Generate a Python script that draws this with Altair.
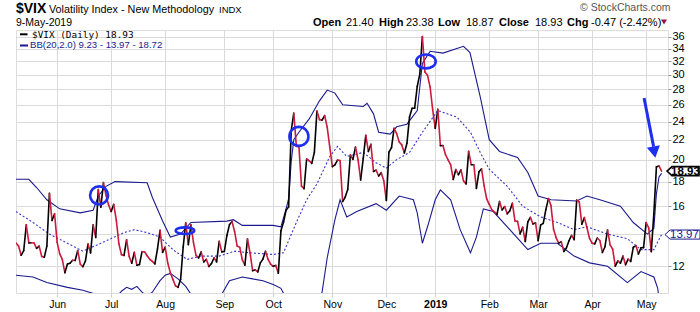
import json
import altair as alt
import pandas as pd

# ---------------- data ----------------
# $VIX daily closes, 9-May-2018 .. 9-May-2019 (trading-day index 0..251)
vix_close = [
    # May 2018
    13.42, 13.23, 12.65, 12.93, 14.63, 13.42, 13.43, 13.42, 13.08, 13.22, 12.58, 12.53, 13.22, 17.02, 14.94, 15.43,
    # Jun
    13.46, 12.74, 12.40, 11.64, 12.13, 12.18, 12.35, 12.34, 12.94, 12.12, 11.98, 12.31, 13.35, 12.79, 14.64, 13.77,
    17.33, 15.92, 17.91, 16.85, 16.09,
    # Jul
    15.60, 16.14, 14.97, 13.37, 12.69, 12.64, 13.63, 12.58, 12.18, 12.83, 12.06, 12.10, 12.87, 12.86, 12.62, 12.41,
    12.29, 12.14, 13.03, 14.26, 12.83,
    # Aug
    13.15, 12.19, 11.64, 11.27, 10.93, 10.85, 11.27, 13.16, 14.78, 13.31, 14.64, 13.45, 12.64, 12.49, 12.86, 12.25,
    12.41, 11.99, 12.16, 12.50, 12.25, 13.53, 12.86,
    # Sep
    12.88, 13.91, 14.65, 14.88, 14.16, 13.22, 13.14, 12.37, 12.07, 13.68, 12.79, 11.75, 11.80, 11.68, 12.20, 12.42,
    12.89, 12.41, 12.12,
    # Oct
    12.00, 12.05, 11.61, 14.22, 14.82, 15.69, 15.95, 22.96, 24.98, 21.31, 21.30, 17.62, 17.40, 20.06, 19.89, 19.64,
    20.71, 25.23, 24.22, 24.16, 24.70, 23.35, 21.23,
    # Nov
    19.34, 19.51, 19.96, 19.91, 16.36, 16.72, 17.36, 20.45, 20.02, 21.25, 19.98, 18.14, 20.10, 22.48, 20.80, 21.52,
    18.90, 19.02, 18.49, 18.79, 18.07,
    # Dec
    16.44, 20.74, 21.19, 23.23, 22.64, 21.76, 21.46, 20.65, 21.63, 24.52, 25.58, 25.58, 28.38, 30.11, 36.07, 30.41,
    29.96, 28.34, 25.42,
    # Jan 2019
    23.22, 25.45, 21.38, 21.40, 20.47, 19.98, 19.50, 18.19, 19.07, 18.60, 19.04, 18.06, 17.80, 20.80, 19.52, 19.52,
    17.42, 18.87, 19.13, 17.66, 16.57,
    # Feb
    16.14, 15.73, 15.57, 15.38, 16.37, 15.72, 15.97, 15.43, 15.65, 16.22, 14.91, 14.88, 14.02, 14.46, 13.51, 14.85,
    15.17, 14.70, 14.78,
    # Mar
    13.57, 14.63, 14.74, 15.74, 16.59, 16.05, 14.33, 13.77, 13.41, 13.50, 12.88, 13.10, 13.56, 13.91, 13.63, 16.48,
    16.33, 14.68, 15.15, 14.43, 13.71,
    # Apr
    13.40, 13.36, 13.74, 13.58, 12.82, 13.18, 14.28, 13.30, 13.02, 12.01, 12.32, 12.18, 12.60, 12.09, 12.42, 12.28,
    13.14, 13.25, 12.73, 13.11, 13.12,
    # May 2019
    14.80, 14.42, 12.87, 15.44, 19.32, 19.40, 18.93,
]

month_start_idx = [16, 37, 58, 81, 100, 123, 144, 163, 184, 203, 224, 245]
month_labels = ["Jun", "Jul", "Aug", "Sep", "Oct", "Nov", "Dec", "2019", "Feb", "Mar", "Apr", "May"]
y_tick_values = [12, 14, 16, 18, 20, 22, 24, 26, 28, 30, 32, 34, 36]

# Bollinger band (20, 2.0)
upper_idx = [0, 5, 8, 12, 17, 25, 30, 32, 35, 38.5, 51, 53, 57, 60, 64, 68, 82, 84.5, 88, 100, 103, 105, 106, 107,
             108, 110, 114, 118, 121, 124, 127, 135, 136.5, 139, 141, 145.5, 148, 152, 156, 158, 161, 166, 174,
             176.5, 180.5, 184, 188, 195, 199, 203, 208, 218, 222, 227, 235, 240, 245.5, 248, 249, 250, 251]
upper_val = [18.2, 18.2, 17.5, 16.5, 15.8, 15.5, 15.7, 16.8, 17.6, 18.0, 17.9, 16.7, 14.9, 13.8, 14.0, 14.8, 14.9,
             15.0, 14.6, 14.6, 14.5, 15.8, 16.6, 19.8, 22.0, 22.8, 24.3, 26.5, 27.9, 27.5, 26.0, 25.8, 26.2, 24.9,
             22.8, 22.6, 23.4, 23.7, 25.3, 31.7, 33.6, 33.3, 34.4, 33.4, 27.0, 22.0, 20.8, 20.2, 18.8, 16.8, 16.5,
             16.4, 16.8, 16.5, 16.0, 14.8, 14.0, 14.4, 17.0, 18.4, 18.72]
mid_idx = [0, 6.6, 13, 20, 26, 33, 42, 46, 51, 56, 61, 66.5, 71.6, 79, 85, 91, 100, 104, 109, 113, 117, 122, 125,
           128.6, 135, 140, 144, 148, 153, 158, 164, 171.5, 176.7, 180.5, 184, 191, 197, 204, 210.5, 217, 222, 230,
           237.7, 243, 248, 251]
mid_val = [15.6, 14.8, 14.0, 13.4, 12.9, 13.4, 14.1, 14.3, 14.1, 13.8, 13.0, 12.4, 12.6, 12.6, 12.9, 12.8, 12.7,
           12.8, 14.8, 16.5, 17.8, 20.3, 21.3, 20.3, 20.7, 19.7, 19.2, 20.0, 20.7, 22.8, 25.3, 24.5, 22.8, 20.7,
           19.1, 17.6, 16.0, 15.2, 14.8, 14.3, 14.5, 14.0, 13.7, 13.0, 13.0, 13.97]
lower_idx = [0, 6.6, 12, 20, 26, 31, 35, 38, 41, 43, 45, 47, 49, 51, 53, 56, 58, 60, 63, 66, 68, 72, 77, 80, 83,
             88, 92, 96, 100, 103, 105, 107, 110, 113, 116, 119, 121, 124, 126, 128.6, 132.5, 140, 144, 149, 154.5,
             156, 158, 160, 163, 165, 169, 172.7, 176.7, 179, 181.7, 185.6, 191, 199, 204, 210.5, 217, 223, 230,
             237.7, 243, 248, 249.5, 251]
lower_val = [11.5, 11.4, 11.1, 10.85, 10.7, 10.5, 9.8, 10.2, 10.65, 10.85, 10.75, 10.9, 10.6, 10.4, 10.6, 11.2,
             11.5, 11.6, 11.3, 10.9, 10.5, 10.0, 10.1, 10.5, 11.2, 11.4, 11.3, 11.2, 11.0, 10.8, 10.3, 9.5, 7.0, 7.5,
             9.2, 10.6, 12.5, 15.0, 16.5, 15.2, 15.6, 16.2, 15.7, 16.8, 16.5, 15.5, 13.4, 14.5, 16.5, 17.3, 16.5,
             14.3, 12.8, 13.8, 15.8, 15.6, 14.5, 13.0, 13.4, 13.4, 12.6, 12.2, 12.0, 11.1, 11.7, 11.4, 10.8, 9.23]

# hand-drawn annotations (data coordinates: trading-day index, VIX value)
circle_key = ["jun", "aug", "oct", "dec"]
circle_idx = [32.3, 65.7, 110.0, 159.4]
circle_val = [16.85, 14.23, 22.35, 32.0]
arrow_idx = [244.2, 247.9]
arrow_val = [26.87, 21.28]
arrowhead_idx = [248.2]
arrowhead_val = [20.73]

last_close = 18.93
bb_mid_last = 13.97

# ---------------- styling ----------------
BLACK = "#000000"
RED = "#cc1a3c"
NAVY = "#1a1a8e"
MIDBLUE = "#3535c8"
ANNOT = "#1f2ff0"
GRID = "#dadada"
FONT = "Liberation Sans"

xs = alt.Scale(domain=[0, 253.5], nice=False, zero=False)
ys = alt.Scale(type="log", domain=[10.56, 37.2], nice=False)

label_expr = "{}[indexof({}, datum.value)]".format(
    json.dumps(month_labels).replace('"', "'"), json.dumps(month_start_idx))

x_axis = alt.Axis(
    values=month_start_idx, labelExpr=label_expr, grid=True, gridColor=GRID, domain=False,
    ticks=True, tickSize=4, tickColor="#cfcfcf", labelFont=FONT, labelFontSize=10.5,
    labelColor="#000", labelPadding=2, labelFlush=False, labelOverlap=False, title=None,
    labelFontWeight={"condition": {"test": "datum.value == 163", "value": "bold"}, "value": "normal"},
)
y_axis = alt.Axis(
    orient="right", values=y_tick_values, grid=True, gridColor=GRID, domain=False, ticks=True,
    tickSize=3, tickColor="#999999", labelFont=FONT, labelFontSize=11, labelColor="#000",
    labelPadding=1, title=None, labelOverlap=False,
    labelExpr="datum.value == 14 ? '' : datum.label",
)


def X(field="idx"):
    return alt.X(f"{field}:Q", scale=xs, axis=x_axis)


def Y(field="v"):
    return alt.Y(f"{field}:Q", scale=ys, axis=y_axis)


# ---------------- layers ----------------
n = len(vix_close)
seg = pd.DataFrame({
    "idx": list(range(n - 1)), "idx2": list(range(1, n)),
    "v": vix_close[:-1], "v2": vix_close[1:],
})
seg["dir"] = ["up" if b >= a else "down" for a, b in zip(seg["v"], seg["v2"])]


def band(idx, val, color, dash=None, width=1.1):
    kw = dict(color=color, strokeWidth=width, clip=True, interpolate="linear")
    if dash:
        kw["strokeDash"] = dash
    return alt.Chart(pd.DataFrame({"idx": idx, "v": val})).mark_line(**kw).encode(x=X(), y=Y())


upper = band(upper_idx, upper_val, NAVY)
lower = band(lower_idx, lower_val, NAVY)
middle = band(mid_idx, mid_val, MIDBLUE, dash=[2, 2], width=1.1)

vix_line = alt.Chart(seg).mark_rule(strokeWidth=1.6, strokeCap="round", clip=True).encode(
    x=X(), x2="idx2:Q", y=Y(), y2="v2:Q",
    color=alt.Color("dir:N", scale=alt.Scale(domain=["up", "down"], range=[BLACK, RED]), legend=None),
)

ellipse_paths = [
    "M -1 0 A 1 1 0 1 1 1 0 A 1 1 0 1 1 -1 0 Z",
    "M -1 0 A 1 0.36 0 1 1 1 0 A 1 0.36 0 1 1 -1 0 Z",
    "M -1 0 A 1 1 0 1 1 1 0 A 1 1 0 1 1 -1 0 Z",
    "M -1 0 A 1 0.71 0 1 1 1 0 A 1 0.71 0 1 1 -1 0 Z",
]
ellipse_sizes = [324, 380, 361, 306]
circles = alt.Chart(pd.DataFrame({"k": circle_key, "idx": circle_idx, "v": circle_val})).mark_point(
    filled=False, strokeWidth=2.6, color=ANNOT, opacity=1).encode(
    x=X(), y=Y(),
    shape=alt.Shape("k:N", scale=alt.Scale(domain=circle_key, range=ellipse_paths), legend=None),
    size=alt.Size("k:N", scale=alt.Scale(domain=circle_key, range=ellipse_sizes), legend=None),
)

arrow_df = pd.DataFrame({"idx": [arrow_idx[0]], "idx2": [arrow_idx[1]], "v": [arrow_val[0]], "v2": [arrow_val[1]]})
arrow_shaft = alt.Chart(arrow_df).mark_rule(strokeWidth=3, color=ANNOT).encode(
    x=X(), x2="idx2:Q", y=Y(), y2="v2:Q")
arrow_head = alt.Chart(pd.DataFrame({"idx": arrowhead_idx, "v": arrowhead_val})).mark_point(
    shape="triangle-down", filled=True, size=175, angle=350, color=ANNOT, opacity=1).encode(x=X(), y=Y())

one = pd.DataFrame({"k": [0]})


def txt(t, x, y, size, weight="normal", color="#000", font=FONT, align="left", baseline="alphabetic"):
    return alt.Chart(one).mark_text(text=t, align=align, baseline=baseline, fontSize=size,
                                    fontWeight=weight, color=color, font=font).encode(
        x=alt.value(x), y=alt.value(y))


def hrule(x1, x2, y, color, width=2):
    return alt.Chart(one).mark_rule(color=color, strokeWidth=width).encode(
        x=alt.value(x1), x2=alt.value(x2), y=alt.value(y))


# value flags on the right axis
flag_path = "M -1 0 L -0.69 -0.28 L 1 -0.28 L 1 0.28 L -0.69 0.28 Z"
flag_path2 = "M -1 0 L -0.71 -0.26 L 1 -0.26 L 1 0.26 L -0.71 0.26 Z"
close_df = pd.DataFrame({"v": [last_close], "t": [f"{last_close:.2f}"]})
mid_df = pd.DataFrame({"v": [bb_mid_last], "t": [f"{bb_mid_last:.2f}"]})
close_flag = alt.Chart(close_df).mark_point(shape=flag_path, filled=True, fill="white", stroke=BLACK,
                                            strokeWidth=1.6, size=1024, opacity=1).encode(
    x=alt.value(667), y=Y())
close_text = alt.Chart(close_df).mark_text(font=FONT, fontSize=11.5, fontWeight="bold", color=BLACK,
                                           align="center", baseline="middle", dy=0.5).encode(
    x=alt.value(669.5), y=Y(), text="t:N")
mid_flag = alt.Chart(mid_df).mark_point(shape=flag_path2, filled=True, fill="white", stroke=NAVY,
                                        strokeWidth=1, size=1225, opacity=1).encode(
    x=alt.value(666.5), y=Y())
mid_text = alt.Chart(mid_df).mark_text(font=FONT, fontSize=11.5, color=NAVY, align="center",
                                       baseline="middle", dy=0.5).encode(
    x=alt.value(668.5), y=Y(), text="t:N")

header = [
    txt("$VIX", 0, -17, 14, weight="bold"),
    txt("Volatility Index - New Methodology", 33, -17, 10.8),
    txt("INDX", 203, -17, 9.5),
    txt("9-May-2019", 0, -4.5, 10.5),
    txt("\u00a9 StockCharts.com", 564, -19, 10.5, color="#555555"),
    txt("Open", 297, -4.5, 11, weight="bold"),
    txt("21.40", 330, -4.5, 11),
    txt("High", 363, -4.5, 11, weight="bold"),
    txt("23.38", 390, -4.5, 11),
    txt("Low", 422, -4.5, 11, weight="bold"),
    txt("18.87", 450, -4.5, 11),
    txt("Close", 483, -4.5, 11, weight="bold"),
    txt("18.93", 519, -4.5, 11),
    txt("Chg", 551, -4.5, 11, weight="bold"),
    txt("-0.47 (-2.42%)", 575, -4.5, 11),
    alt.Chart(one).mark_point(shape="triangle-down", filled=True, size=36, color="#99123f", opacity=1).encode(
        x=alt.value(648), y=alt.value(-8)),
    hrule(4, 11.5, 4.3, BLACK),
    txt("$VIX (Daily) 18.93", 16, 7.8, 9.4, font="DejaVu Sans Mono"),
    hrule(4, 12, 15.5, NAVY),
    txt("BB(20,2.0) 9.23 - 13.97 - 18.72", 14, 18.3, 9.6, color=NAVY),
]

chart = alt.layer(
    upper, lower, middle, vix_line, circles, arrow_shaft, arrow_head,
    mid_flag, mid_text, close_flag, close_text, *header,
).properties(
    width=652, height=263,
    autosize=alt.AutoSizeParams(type="none"),
    padding={"left": 16, "top": 30, "right": 32, "bottom": 19},
).configure_view(stroke="#9a9a9a", strokeWidth=1).configure(background="white")

chart.save("out.html", embed_options={"renderer": "svg", "actions": False})
